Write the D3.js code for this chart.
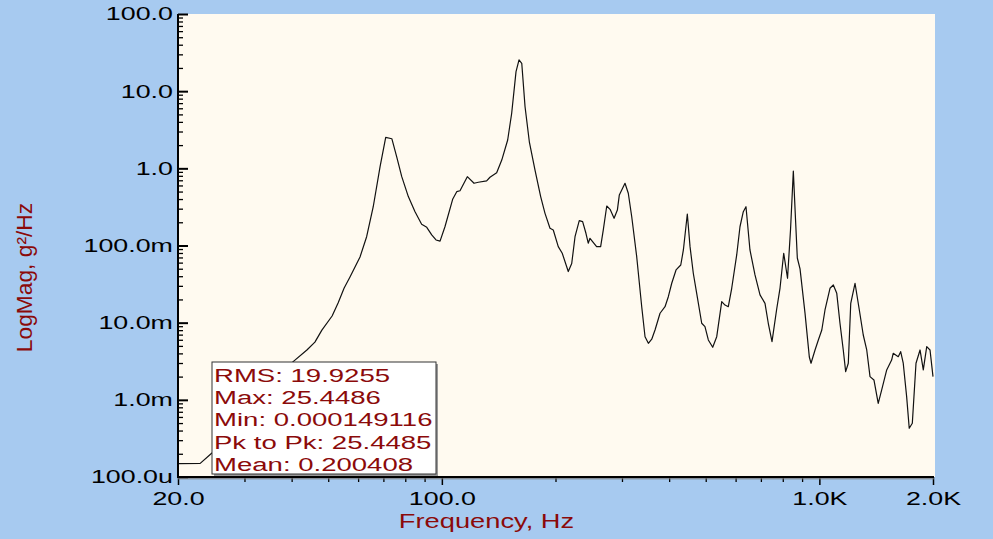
<!DOCTYPE html>
<html>
<head>
<meta charset="utf-8">
<script src="https://cdn.jsdelivr.net/npm/d3@7"></script>
<style>
  html, body { margin: 0; padding: 0; background: #A7CAF0; }
  svg { display: block; }
</style>
</head>
<body>
<svg id="chart" width="993" height="539"></svg>
<script>
// ---- data ----
const freqHz = [20, 22.9, 24.6, 27.5, 31.0, 35.1, 40.3, 43.9, 46.1, 48.1, 51.2, 53.1, 55.1, 57.1, 60.7, 63.2, 65.8, 68.6, 71.0, 73.7,
  75.9, 78.3, 81.5, 84.9, 88.4, 91.2, 94.0, 96.5, 98.9, 101.9, 106.8, 109.5, 111.7, 116.8, 121.7, 124.9, 131.4, 134.1, 139.7, 144.1,
  149.4, 153.1, 157.2, 160.1, 162.8, 166.1, 170.5, 176.5, 182.7, 187.6, 193.4, 197.3, 203.4, 208.4, 216.2, 220.8, 225.3, 231.2, 236.0, 240.8,
  244.2, 246.8, 257.0, 263.4, 267.7, 273.4, 279.0, 285.9, 291.7, 295.2, 305.6, 311.8, 318.4, 328.2, 338.4, 345.3, 352.4, 359.7, 367.0, 378.4,
  390.1, 398.0, 406.4, 417.2, 429.4, 436.3, 446.9, 454.4, 463.5, 473.2, 487.9, 497.7, 508.0, 521.8, 534.7, 551.3, 562.4, 573.8, 585.9, 604.0,
  616.2, 628.8, 639.2, 654.9, 675.3, 696.3, 717.8, 732.3, 749.1, 770.9, 786.7, 804.6, 823.5, 838.6, 853.2, 864.8, 874.2, 888.8, 916.2, 940.6,
  950.4, 974.0, 993.8, 1015, 1035, 1067, 1089, 1112, 1134, 1157, 1174, 1193, 1211, 1243, 1276, 1307, 1335, 1362, 1395, 1432,
  1462, 1508, 1554, 1569, 1618, 1642, 1668, 1703, 1730, 1763, 1803, 1848, 1885, 1925, 1964, 2000];
const psdG2Hz = [0.000149, 0.00015, 0.000205, 0.00035, 0.00074, 0.00143, 0.0031, 0.00443, 0.0056, 0.0080, 0.0122, 0.018, 0.0281, 0.0391, 0.071, 0.130, 0.318, 1.05, 2.52, 2.42,
  1.42, 0.78, 0.43, 0.274, 0.188, 0.172, 0.137, 0.118, 0.114, 0.175, 0.397, 0.498, 0.513, 0.78, 0.64, 0.66, 0.686, 0.766, 0.877, 1.28,
  2.33, 5.17, 17.9, 25.4486, 23.0, 6.29, 2.21, 0.95, 0.43, 0.261, 0.167, 0.159, 0.0966, 0.0793, 0.046, 0.0585, 0.130, 0.210, 0.204, 0.144,
  0.107, 0.124, 0.0966, 0.0966, 0.159, 0.325, 0.294, 0.225, 0.288, 0.452, 0.64, 0.475, 0.236, 0.0716, 0.0161, 0.00658, 0.0054, 0.0061, 0.00804, 0.01324,
  0.0161, 0.0217, 0.0324, 0.0482, 0.0559, 0.0875, 0.256, 0.0966, 0.0437, 0.024, 0.00982, 0.00887, 0.00597, 0.0048, 0.00658, 0.0187, 0.0169, 0.0161, 0.0279, 0.0754,
  0.175, 0.274, 0.318, 0.0875, 0.0415, 0.0229, 0.0178, 0.00982, 0.00567, 0.01503, 0.0281, 0.0793, 0.0376, 0.159, 0.924, 0.214, 0.0689, 0.0497, 0.0133, 0.00359,
  0.00298, 0.00443, 0.00597, 0.00804, 0.0146, 0.0279, 0.0308, 0.024, 0.00982, 0.00443, 0.00232, 0.00298, 0.0178, 0.0324, 0.0146, 0.00692, 0.00443, 0.0020, 0.00181, 0.000902,
  0.00134, 0.00244, 0.00328, 0.00401, 0.00362, 0.00421, 0.00298, 0.0011, 0.000428, 0.000497, 0.00298, 0.00443, 0.00244, 0.00489, 0.00443, 0.0020];

const xTickValues = [20, 100, 1000, 2000];
const xTickLabels = ["20.0", "100.0", "1.0K", "2.0K"];
const xMinorTicks = [30, 40, 50, 60, 70, 80, 90, 200, 300, 400, 500, 600, 700, 800, 900];
const yTickValues = [1e-4, 1e-3, 1e-2, 1e-1, 1, 10, 100];
const yTickLabels = ["100.0u", "1.0m", "10.0m", "100.0m", "1.0", "10.0", "100.0"];
const yMinorMultipliers = [2, 3, 4, 5, 6, 7, 8, 9];

const statNames = ["RMS", "Max", "Min", "Pk to Pk", "Mean"];
const statValues = ["19.9255", "25.4486", "0.000149116", "25.4485", "0.200408"];

const xTitle = "Frequency, Hz";
const yTitle = "LogMag, g\u00B2/Hz";

// ---- layout ----
const L = 178, R = 933, T = 14, B = 477;
const svg = d3.select("#chart");
const titleColor = "#8B0A0A";
const stretch = 1.45;

svg.append("rect").attr("x", 0).attr("y", 0).attr("width", 993).attr("height", 539).attr("fill", "#A7CAF0");
svg.append("rect").attr("x", L).attr("y", T).attr("width", R - L + 2).attr("height", B - T).attr("fill", "#FFFAF0");

const x = d3.scaleLog().domain([20, 2000]).range([L, R]);
const y = d3.scaleLog().domain([1e-4, 100]).range([B, T]);

// clip
svg.append("defs").append("clipPath").attr("id", "clip")
  .append("rect").attr("x", L).attr("y", T).attr("width", R - L + 2).attr("height", B - T);

// curve
const pts = freqHz.map((f, i) => [f, psdG2Hz[i]]);
svg.append("path")
  .datum(pts)
  .attr("clip-path", "url(#clip)")
  .attr("fill", "none")
  .attr("stroke", "#111")
  .attr("stroke-width", 1.2)
  .attr("stroke-linejoin", "round")
  .attr("d", d3.line().x(d => x(d[0])).y(d => y(d[1])));

// y minor ticks
const yMinor = [];
yTickValues.slice(0, -1).forEach(d => yMinorMultipliers.forEach(m => yMinor.push(d * m)));
const yMinorAxis = d3.axisLeft(y).tickValues(yMinor).tickSizeInner(-5).tickSizeOuter(0).tickFormat("");
svg.append("g").attr("transform", `translate(${L},0)`).call(yMinorAxis)
  .call(g => g.select(".domain").remove())
  .call(g => g.selectAll("line").attr("stroke", "#000").attr("stroke-width", 1.3));

// y major
const yAxis = d3.axisLeft(y).tickValues(yTickValues).tickSizeInner(-10).tickSizeOuter(0).tickPadding(3.5)
  .tickFormat((d, i) => yTickLabels[i]);
svg.append("g").attr("transform", `translate(${L},0)`).call(yAxis)
  .call(g => g.select(".domain").remove())
  .call(g => g.selectAll("line").attr("stroke", "#000").attr("stroke-width", 2))
  .call(g => g.selectAll("text").attr("font-family", "'Liberation Sans', Arial, sans-serif")
    .attr("font-size", 18.5).attr("fill", "#000").attr("transform", `scale(${stretch},1)`));

// x minor
const xMinorAxis = d3.axisBottom(x).tickValues(xMinorTicks).tickSizeInner(5).tickSizeOuter(0).tickFormat("");
svg.append("g").attr("transform", `translate(0,${B})`).call(xMinorAxis)
  .call(g => g.select(".domain").remove())
  .call(g => g.selectAll("line").attr("stroke", "#000").attr("stroke-width", 1.3));

// x major
const xAxis = d3.axisBottom(x).tickValues(xTickValues).tickSizeInner(8).tickSizeOuter(0).tickPadding(7)
  .tickFormat((d, i) => xTickLabels[i]);
svg.append("g").attr("transform", `translate(0,${B})`).call(xAxis)
  .call(g => g.select(".domain").remove())
  .call(g => g.selectAll("line").attr("stroke", "#000").attr("stroke-width", 1.5))
  .call(g => g.selectAll("text").attr("font-family", "'Liberation Sans', Arial, sans-serif")
    .attr("font-size", 18.5).attr("fill", "#000").attr("transform", `scale(${stretch},1)`));

// axis lines
svg.append("line").attr("x1", L).attr("x2", L).attr("y1", T).attr("y2", B + 1)
  .attr("stroke", "#000").attr("stroke-width", 2);
svg.append("line").attr("x1", L - 1).attr("x2", R + 1).attr("y1", B).attr("y2", B)
  .attr("stroke", "#000").attr("stroke-width", 2);
svg.append("line").attr("x1", L).attr("x2", R + 1).attr("y1", B + 1.8).attr("y2", B + 1.8)
  .attr("stroke", "#777").attr("stroke-width", 1);

// stats box
const bx = 212, by = 362, bw = 224, bh = 112;
svg.append("rect").attr("x", bx + 2).attr("y", by + 2).attr("width", bw).attr("height", bh).attr("fill", "#999");
svg.append("rect").attr("x", bx).attr("y", by).attr("width", bw).attr("height", bh)
  .attr("fill", "#fff").attr("stroke", "#333").attr("stroke-width", 1);
svg.append("g").selectAll("text").data(statNames).join("text")
  .attr("transform", (d, i) => `translate(${bx + 2},${382 + i * 22.2}) scale(${stretch},1)`)
  .attr("font-family", "'Liberation Sans', Arial, sans-serif")
  .attr("font-size", 19)
  .attr("fill", titleColor)
  .text((d, i) => `${d}: ${statValues[i]}`);

// titles
svg.append("text")
  .attr("transform", `translate(486.5,528) scale(1.3,1)`)
  .attr("text-anchor", "middle")
  .attr("font-family", "'Liberation Sans', Arial, sans-serif")
  .attr("font-size", 21)
  .attr("fill", titleColor)
  .text(xTitle);
svg.append("text")
  .attr("transform", `translate(32,277.5) rotate(-90) scale(1.035,1)`)
  .attr("text-anchor", "middle")
  .attr("font-family", "'Liberation Sans', Arial, sans-serif")
  .attr("font-size", 22)
  .attr("fill", titleColor)
  .text(yTitle);
</script>
</body>
</html>
